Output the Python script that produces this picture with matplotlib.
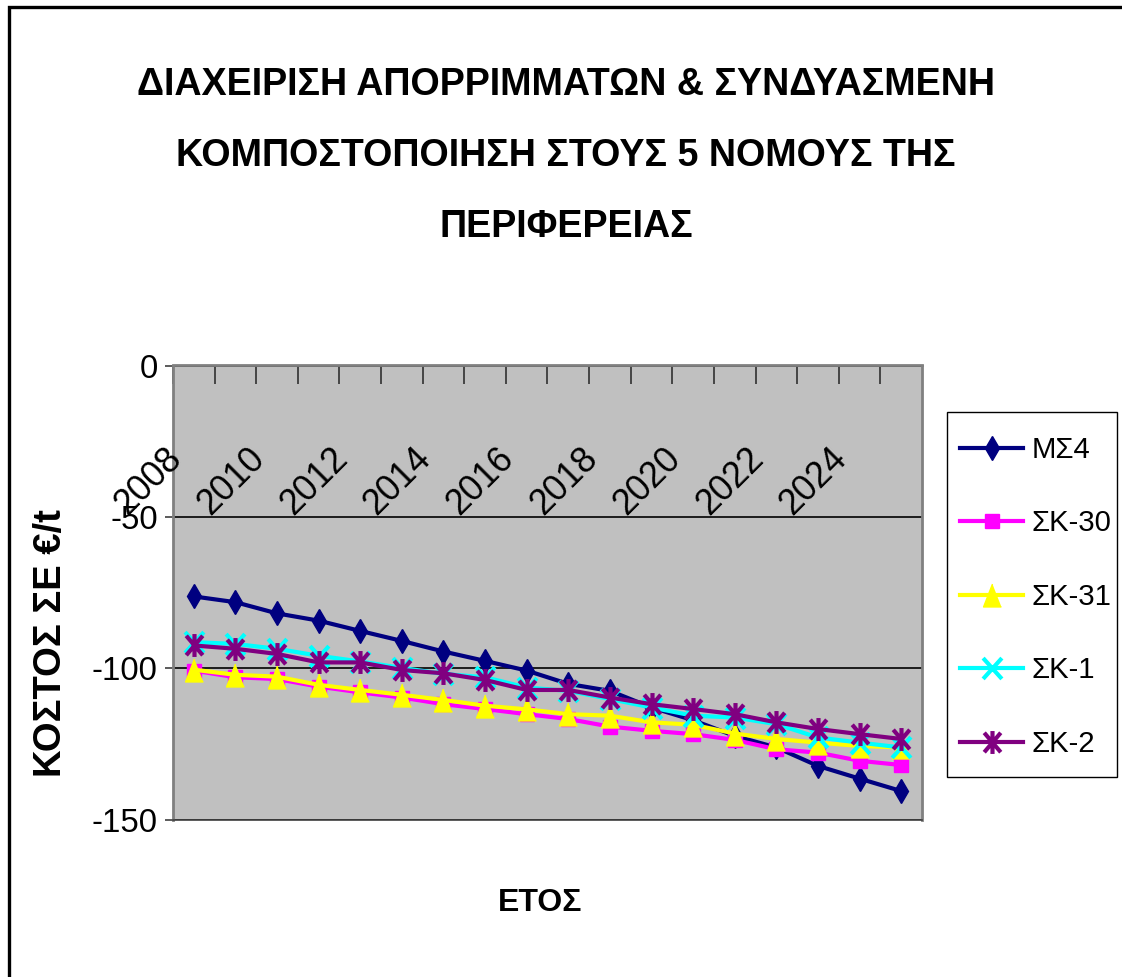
import matplotlib
matplotlib.use("Agg")
import matplotlib.pyplot as plt
from matplotlib.path import Path
from matplotlib.patches import Rectangle

plt.rcParams['font.family'] = ['Liberation Sans', 'DejaVu Sans']

years = list(range(2008, 2026))
ms4 = [-76.3, -78.2, -81.9, -84.3, -87.7, -91.0, -94.5, -97.6, -100.8, -105.2,
       -107.5, -113.0, -117.2, -122.4, -126.2, -132.3, -136.5, -140.6]
sk30 = [-100.8, -103.0, -103.6, -106.1, -108.0, -109.7, -111.9, -113.5, -115.2, -116.8,
        -119.3, -120.7, -121.8, -123.7, -126.8, -127.9, -130.6, -132.0]
sk31 = [-100.5, -102.2, -102.8, -105.5, -107.2, -108.8, -110.5, -112.4, -113.6, -115.2,
        -115.7, -117.9, -118.7, -121.6, -123.4, -124.6, -125.7, -126.2]
sk1 = [-91.4, -92.0, -93.6, -95.9, -97.8, -99.9, -101.9, -103.0, -106.4, -107.5,
       -110.2, -113.0, -115.7, -116.3, -118.5, -122.9, -124.6, -126.2]
sk2 = [-92.5, -93.6, -95.3, -98.1, -98.1, -100.6, -101.7, -103.9, -107.2, -107.2,
       -109.7, -111.9, -113.5, -115.2, -117.9, -120.1, -121.8, -123.4]
series_names = ['ΜΣ4', 'ΣΚ-30', 'ΣΚ-31', 'ΣΚ-1', 'ΣΚ-2']
yticks = [0, -50, -100, -150]
title_lines = ['ΔΙΑΧΕΙΡΙΣΗ ΑΠΟΡΡΙΜΜΑΤΩΝ & ΣΥΝΔΥΑΣΜΕΝΗ',
               'ΚΟΜΠΟΣΤΟΠΟΙΗΣΗ ΣΤΟΥΣ 5 ΝΟΜΟΥΣ ΤΗΣ',
               'ΠΕΡΙΦΕΡΕΙΑΣ']
xlabel = 'ΕΤΟΣ'
ylabel = 'ΚΟΣΤΟΣ ΣΕ €/t'

W, H = 1122, 977
fig = plt.figure(figsize=(W / 100, H / 100), dpi=100)
fig.patch.set_facecolor('white')
renderer = fig.canvas.get_renderer()


def fx(px):
    return px / W


def fy(py):
    return 1 - py / H


def size_for(s, target_px, weight='normal'):
    t = fig.text(0, 0, s, fontsize=10, fontweight=weight)
    w = t.get_window_extent(renderer).width
    t.remove()
    return 10 * target_px / w


tick_fs = size_for('-100', 66)
title_fs = size_for(title_lines[0], 855, 'bold')
leg_fs = size_for('ΣΚ-30', 80)

ax = fig.add_axes([fx(173), fy(819.5), fx(922) - fx(173), fy(365.5) - fy(819.5)])
ax.set_facecolor('#C0C0C0')
n = len(years)
xs = [i + 0.5 for i in range(n)]

tri = [(0, 1), (-0.78, -1), (0.78, -1)]
star = Path([(0, 1), (0, -1), (-0.72, 0.85), (0.72, -0.85), (-0.72, -0.85), (0.72, 0.85)],
            [Path.MOVETO, Path.LINETO, Path.MOVETO, Path.LINETO, Path.MOVETO, Path.LINETO])
xmark = Path([(-0.9, 1), (0.9, -1), (-0.9, -1), (0.9, 1)],
             [Path.MOVETO, Path.LINETO, Path.MOVETO, Path.LINETO])

styles = [
    dict(color='#000080', marker='d', ms=12.7, mew=1),
    dict(color='#FF00FF', marker='s', ms=10.5, mew=1),
    dict(color='#FFFF00', marker=tri, ms=16.5, mew=1),
    dict(color='#00FFFF', marker=xmark, ms=15, mew=3),
    dict(color='#800080', marker=star, ms=16.5, mew=3),
]
data = [ms4, sk30, sk31, sk1, sk2]
for name, vals, st in zip(series_names, data, styles):
    ax.plot(xs, vals, color=st['color'], lw=3, marker=st['marker'], ms=st['ms'],
            mfc=st['color'], mec=st['color'], mew=st['mew'], label=name, clip_on=False)

ax.set_xlim(0, n)
ax.set_ylim(-150, 0)
ax.set_yticks(yticks)
ax.set_yticklabels([str(v) for v in yticks], fontsize=tick_fs)
ax.tick_params(axis='y', direction='out', length=6, width=1.2, color='#404040', pad=5)
ax.yaxis.grid(True, color='black', lw=1.2)
ax.set_axisbelow(True)

# category boundary ticks on the top axis (axis crosses at 0)
ax.set_xticks(range(n))
ax.tick_params(axis='x', which='both', bottom=False, top=True, labelbottom=False,
               labeltop=False, direction='in', length=14, width=1.2, color='#303030')
for i, yr in enumerate(years):
    if i % 2 == 0:
        ax.text(i + 0.07, -29.0, str(yr), rotation=45, rotation_mode='anchor',
                ha='right', va='center', fontsize=tick_fs * 1.08, clip_on=False)

for s in ax.spines.values():
    s.set_color('#808080')
    s.set_linewidth(2)
ax.spines['bottom'].set_color('#404040')
ax.spines['bottom'].set_linewidth(1.2)

for line, base in zip(title_lines, [95, 166, 237]):
    fig.text(fx(566), fy(base), line, ha='center', va='baseline', fontsize=title_fs,
             fontweight='bold')
fig.text(fx(540), fy(911), xlabel, ha='center', va='baseline', fontsize=23, fontweight='bold')
fig.text(fx(51), fy(643), ylabel, ha='center', va='center', rotation=90, fontsize=27.5,
         fontweight='bold')

leg = fig.legend(loc='upper left', bbox_to_anchor=(fx(960), fy(436)), fontsize=leg_fs,
                 frameon=False, handlelength=2.15, handletextpad=0.28,
                 labelspacing=1.55, borderpad=0, borderaxespad=0)

fig.patches.append(Rectangle((fx(947), fy(777)), fx(1117) - fx(947), fy(412) - fy(777),
                             transform=fig.transFigure, fill=False, edgecolor='black',
                             lw=1.0))

fig.patches.append(Rectangle((fx(8.5), fy(1200)), 2, fy(6.5) - fy(1200),
                             transform=fig.transFigure, fill=False, edgecolor='black',
                             lw=2.4))

fig.savefig('out.png', dpi=100)
